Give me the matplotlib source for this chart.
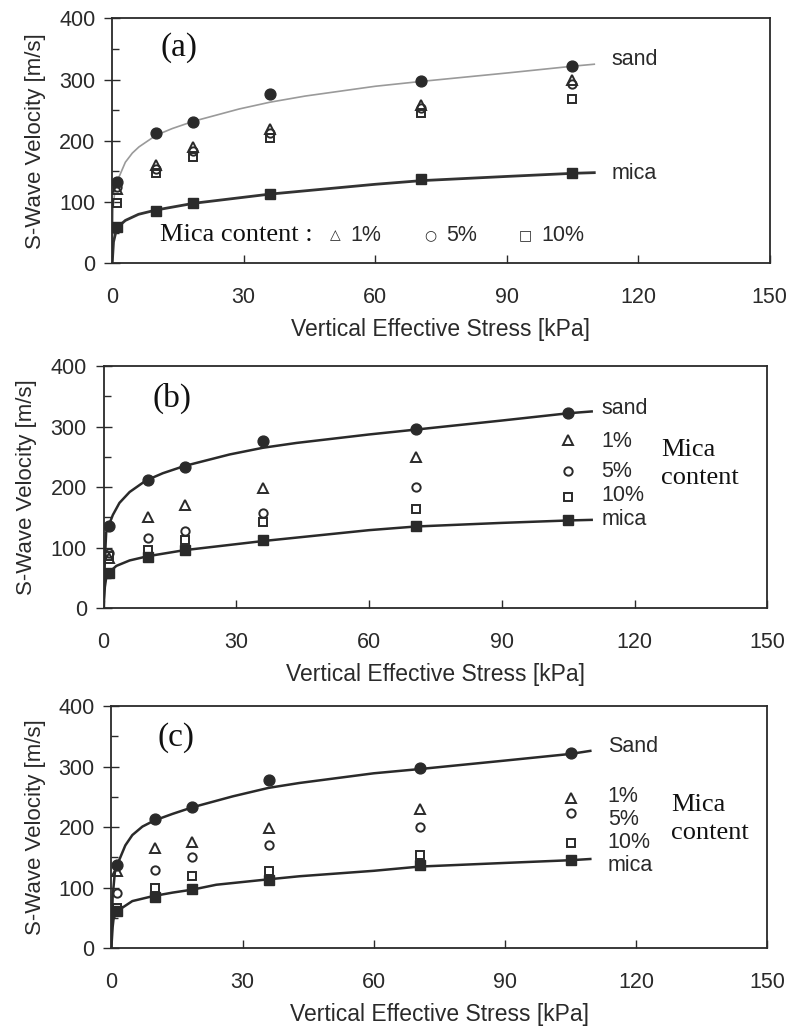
import matplotlib
matplotlib.use('Agg')
import matplotlib.pyplot as plt
from matplotlib.ticker import MultipleLocator

# ---------------- data ----------------
stress = [1.2, 10, 18.5, 36, 70.5, 105]

a_sand = [133, 212, 230, 276, 297, 322]
a_mica = [60, 86, 98, 113, 138, 147]
a_1 = [121, 160, 190, 220, 258, 299]
a_5 = [125, 154, 184, 213, 253, 293]
a_10 = [98, 147, 173, 204, 245, 269]

b_sand = [136, 212, 233, 276, 296, 323]
b_mica = [59, 85, 96, 112, 136, 145]
b_1 = [83, 150, 171, 198, 249, 278]
b_5 = [91, 116, 127, 158, 201, 226]
b_10 = [86, 96, 113, 142, 164, 183]

c_sand = [137, 213, 234, 278, 297, 322]
c_mica = [62, 85, 98, 112, 138, 146]
c_1 = [128, 165, 176, 198, 230, 248]
c_5 = [92, 129, 150, 171, 200, 223]
c_10 = [66, 99, 120, 127, 154, 174]

# fitted trend curves
a_sand_fit_x = [0, 0.2, 0.7, 1.5, 3, 4.6, 6.1, 10, 13.7, 18.6, 29, 36, 44, 60, 70.6, 90.5, 105.4, 110]
a_sand_fit_v = [0, 90, 125, 140, 165, 180, 190, 209, 220, 232, 252, 263, 273, 289, 297, 311, 322, 325]
a_mica_fit_x = [0, 0.3, 0.8, 1.4, 3, 6, 10, 18.6, 36, 60, 70.6, 90.5, 105.4, 110]
a_mica_fit_v = [0, 35, 50, 60, 70, 80, 87, 98, 113, 129, 135, 142, 147, 148]

b_sand_fit_x = [0, 0.3, 0.6, 1.2, 2.1, 3.6, 5.9, 9.6, 13.4, 18.3, 28.5, 36, 43.6, 60, 70.5, 90, 105, 110.3]
b_sand_fit_v = [0, 80, 125, 137, 154, 174, 192, 211, 223, 235, 254, 265, 273, 287, 295, 310, 322, 325]
b_mica_fit_x = [0, 0.3, 0.6, 1.2, 2.9, 5.9, 10, 18.3, 36, 60, 70.5, 90, 105, 110.3]
b_mica_fit_v = [0, 35, 50, 59, 70, 79, 86, 96, 111, 129, 135, 141, 145, 146]

c_sand_fit_x = [0, 0.3, 0.8, 1.3, 1.7, 3.2, 4.8, 7.1, 9.8, 14, 18.6, 27.8, 36, 43, 60, 70.5, 90, 105, 109.5]
c_sand_fit_v = [0, 85, 125, 136, 144, 170, 187, 201, 211, 222, 233, 251, 265, 273, 289, 296, 310, 321, 326]
c_mica_fit_x = [0, 0.3, 0.5, 1.3, 2.5, 4.8, 9.4, 14, 18.6, 24, 28, 36, 43, 60, 70.5, 90, 105, 109.5]
c_mica_fit_v = [0, 35, 48, 62, 67, 78, 86, 92, 97, 105, 108, 114, 119, 128, 135, 141, 145.5, 147.5]

x_ticks = [0, 30, 60, 90, 120, 150]
y_ticks = [0, 100, 200, 300, 400]

xlabel = 'Vertical Effective Stress [kPa]'
ylabel = 'S-Wave Velocity [m/s]'

SANS = 'Liberation Sans'
SERIF = 'Liberation Serif'
DARK = '#2a2a2a'

fig = plt.figure(figsize=(7.89, 10.27), dpi=100)

positions = {
    'a': [0.1422, 0.7436, 0.8332, 0.2386],
    'b': [0.1312, 0.4077, 0.8414, 0.2359],
    'c': [0.1411, 0.0766, 0.8316, 0.2359],
}


def setup(ax):
    ax.set_xlim(0, 150)
    ax.set_ylim(0, 400)
    ax.set_xticks(x_ticks)
    ax.set_yticks(y_ticks)
    ax.yaxis.set_minor_locator(MultipleLocator(50))
    ax.tick_params(axis='x', direction='in', length=6, width=1.0, pad=17,
                   labelsize=15.5, colors=DARK)
    ax.tick_params(axis='y', which='major', direction='inout', length=12, width=1.0,
                   pad=6, labelsize=15.5, colors=DARK)
    ax.tick_params(axis='y', which='minor', direction='in', length=5, width=1.0, colors=DARK)
    for lab in ax.get_xticklabels() + ax.get_yticklabels():
        lab.set_fontfamily(SANS)
    for s in ax.spines.values():
        s.set_linewidth(1.3)
        s.set_color(DARK)
    ax.set_xlabel(xlabel, fontsize=16.5, family=SANS, color=DARK, labelpad=7)
    ax.set_ylabel(ylabel, fontsize=16, family=SANS, color=DARK)
    ax.yaxis.set_label_coords(-0.1, 0.5)


def points(ax, s_sand, s_mica, s1, s5, s10):
    ax.plot(stress, s10, linestyle='none', marker='s', ms=6, mfc='none',
            mec=DARK, mew=1.4, zorder=3)
    ax.plot(stress, s5, linestyle='none', marker='o', ms=6, mfc='none',
            mec=DARK, mew=1.4, zorder=3)
    ax.plot(stress, s1, linestyle='none', marker='^', ms=7, mfc='none',
            mec=DARK, mew=1.4, zorder=3)
    ax.plot(stress, s_sand, linestyle='none', marker='o', ms=7.8, color=DARK, zorder=4)
    ax.plot(stress, s_mica, linestyle='none', marker='s', ms=7.2, color=DARK, zorder=4)


# ---------- (a) ----------
axa = fig.add_axes(positions['a'])
setup(axa)
axa.plot(a_sand_fit_x, a_sand_fit_v, color='#9a9a9a', lw=1.2, zorder=2)
axa.plot(a_mica_fit_x, a_mica_fit_v, color='#333333', lw=2.0, zorder=2)
points(axa, a_sand, a_mica, a_1, a_5, a_10)
axa.text(11, 352, '(a)', family=SERIF, fontsize=24, va='center', ha='left', color='#111')
axa.text(114, 332, 'sand', family=SANS, fontsize=15.5, va='center', color=DARK)
axa.text(114, 147, 'mica', family=SANS, fontsize=15.5, va='center', color=DARK)
axa.text(11, 46, 'Mica content :', family=SERIF, fontsize=19, va='center', color='#111')
axa.text(50.8, 46, '\u25b3', family='DejaVu Sans', fontsize=10, va='center', ha='center', color=DARK)
axa.text(54.3, 46, '1%', family=SANS, fontsize=15.5, va='center', color=DARK)
axa.text(72.6, 46, '\u25cb', family='DejaVu Sans', fontsize=10, va='center', ha='center', color=DARK)
axa.text(76.2, 46, '5%', family=SANS, fontsize=15.5, va='center', color=DARK)
axa.text(94.2, 46, '\u25a1', family='DejaVu Sans', fontsize=10, va='center', ha='center', color=DARK)
axa.text(97.9, 46, '10%', family=SANS, fontsize=15.5, va='center', color=DARK)

# ---------- (b) ----------
axb = fig.add_axes(positions['b'])
setup(axb)
axb.plot(b_sand_fit_x, b_sand_fit_v, color=DARK, lw=1.8, zorder=2)
axb.plot(b_mica_fit_x, b_mica_fit_v, color=DARK, lw=1.8, zorder=2)
points(axb, b_sand, b_mica, b_1, b_5, b_10)
axb.text(11, 347, '(b)', family=SERIF, fontsize=24, va='center', ha='left', color='#111')
axb.text(112.5, 330, 'sand', family=SANS, fontsize=15.5, va='center', color=DARK)
axb.text(112.5, 275, '1%', family=SANS, fontsize=15.5, va='center', color=DARK)
axb.text(112.5, 226, '5%', family=SANS, fontsize=15.5, va='center', color=DARK)
axb.text(112.5, 186, '10%', family=SANS, fontsize=15.5, va='center', color=DARK)
axb.text(112.5, 146, 'mica', family=SANS, fontsize=15.5, va='center', color=DARK)
axb.text(126, 261, 'Mica', family=SERIF, fontsize=19, va='center', color='#111')
axb.text(126, 215, 'content', family=SERIF, fontsize=19, va='center', color='#111')

# ---------- (c) ----------
axc = fig.add_axes(positions['c'])
setup(axc)
axc.plot(c_sand_fit_x, c_sand_fit_v, color=DARK, lw=1.8, zorder=2)
axc.plot(c_mica_fit_x, c_mica_fit_v, color=DARK, lw=1.8, zorder=2)
points(axc, c_sand, c_mica, c_1, c_5, c_10)
axc.text(10.5, 348, '(c)', family=SERIF, fontsize=24, va='center', ha='left', color='#111')
axc.text(113.5, 333, 'Sand', family=SANS, fontsize=15.5, va='center', color=DARK)
axc.text(113.5, 251, '1%', family=SANS, fontsize=15.5, va='center', color=DARK)
axc.text(113.5, 213, '5%', family=SANS, fontsize=15.5, va='center', color=DARK)
axc.text(113.5, 174, '10%', family=SANS, fontsize=15.5, va='center', color=DARK)
axc.text(113.5, 136, 'mica', family=SANS, fontsize=15.5, va='center', color=DARK)
axc.text(128, 237, 'Mica', family=SERIF, fontsize=19, va='center', color='#111')
axc.text(128, 190, 'content', family=SERIF, fontsize=19, va='center', color='#111')

fig.savefig('out.png', dpi=100)
